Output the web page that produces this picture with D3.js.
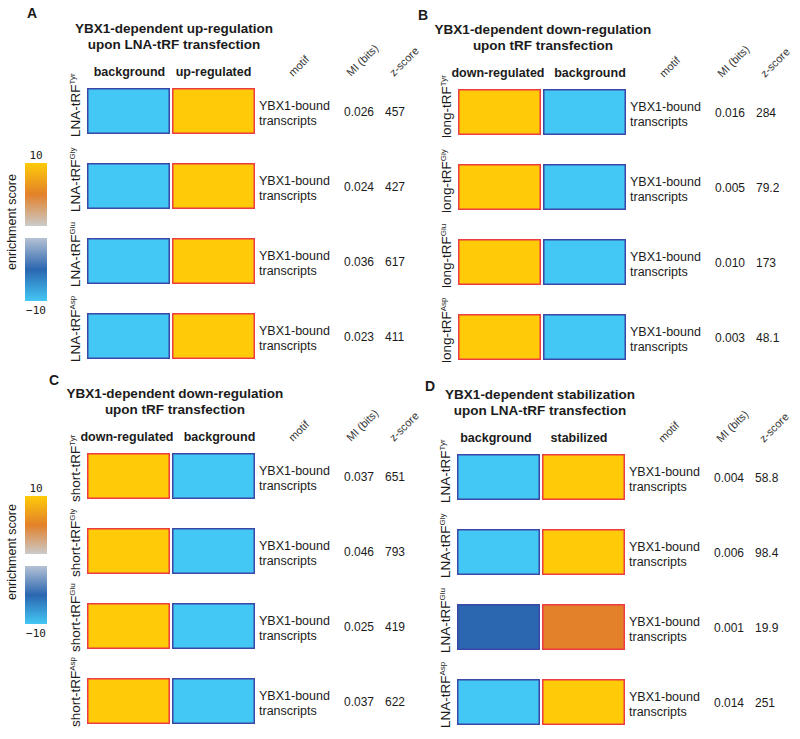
<!DOCTYPE html>
<html>
<head>
<meta charset="utf-8">
<script src="https://cdn.jsdelivr.net/npm/d3@7"></script>
<style>
  body { margin: 0; background: #fff; }
  svg text { font-family: "Liberation Sans", Arial, sans-serif; fill: #1b1b1b; }
</style>
</head>
<body>
<div id="chart"></div>
<script>
// ---- data ----
const panelLetters = ["A", "B", "C", "D"];
const titles = [
  ["YBX1-dependent up-regulation", "upon LNA-tRF transfection"],
  ["YBX1-dependent down-regulation", "upon tRF transfection"],
  ["YBX1-dependent down-regulation", "upon tRF transfection"],
  ["YBX1-dependent stabilization", "upon LNA-tRF transfection"]
];
const columnLabels = [
  ["background", "up-regulated"],
  ["down-regulated", "background"],
  ["down-regulated", "background"],
  ["background", "stabilized"]
];
const rowPrefixes = ["LNA-tRF", "long-tRF", "short-tRF", "LNA-tRF"];
const rowSuperscripts = ["Tyr", "Gly", "Glu", "Asp"];
const motifName = ["YBX1-bound", "transcripts"];
const statHeaders = ["motif", "MI (bits)", "z-score"];
const miBits = [
  ["0.026", "0.024", "0.036", "0.023"],
  ["0.016", "0.005", "0.010", "0.003"],
  ["0.037", "0.046", "0.025", "0.037"],
  ["0.004", "0.006", "0.001", "0.014"]
];
const zScores = [
  ["457", "427", "617", "411"],
  ["284", "79.2", "173", "48.1"],
  ["651", "793", "419", "622"],
  ["58.8", "98.4", "19.9", "251"]
];
// enrichment score of [left cell, right cell] for each row
const cellScores = [
  [[-10, 10], [-10, 10], [-10, 10], [-10, 10]],
  [[10, -10], [10, -10], [10, -10], [10, -10]],
  [[10, -10], [10, -10], [10, -10], [10, -10]],
  [[-10, 10], [-10, 10], [-5, 5], [-10, 10]]
];
const colorTicks = ["10", "\u221210"];

// ---- layout ----
const width = 800, height = 739;
const panelPos = [
  { dx: 0, dy: 0, lx: 27, ly: 18, head: [1, 0], tx: 174 },
  { dx: 371, dy: 1, lx: 418, ly: 20, head: [-1.5, 5.5], tx: 172 },
  { dx: 0, dy: 365, lx: 49, ly: 385, head: [-1.5, 6], tx: 175 },
  { dx: 370, dy: 366, lx: 425, ly: 391, head: [-2.5, -4.5], tx: 170 }
];
const colorbars = [
  { top: 163, bottom: 301, labelY: 222 },
  { top: 496, bottom: 624, labelY: 552 }
];

const color = d3.scaleLinear()
  .domain([-10, -5, -0.001, 0.001, 5, 10])
  .range(["#43c7f4", "#2b66b1", "#b5c2d4", "#cbcbcb", "#e2812a", "#ffcb08"]);
const redBorder = "#ee3b40", blueBorder = "#3a47a6";

const svg = d3.select("#chart").append("svg")
  .attr("width", width)
  .attr("height", height);

// rows and columns of the heatmap within a panel
const y = d3.scaleBand()
  .domain(rowSuperscripts)
  .range([88, 359])
  .paddingInner(0.387);

const x = d3.scaleBand()
  .domain([0, 1])
  .range([87, 255])
  .paddingInner(0.024);

panelLetters.forEach((letter, p) => {
  const pos = panelPos[p];

  svg.append("text")
    .attr("x", pos.lx)
    .attr("y", pos.ly)
    .style("font-size", "14px")
    .style("font-weight", "bold")
    .text(letter);

  const g = svg.append("g")
    .attr("transform", `translate(${pos.dx},${pos.dy})`);

  g.selectAll(".title")
    .data(titles[p])
    .enter()
    .append("text")
    .attr("x", pos.tx)
    .attr("y", (d, i) => 33 + i * 16)
    .attr("text-anchor", "middle")
    .style("font-size", "13.5px")
    .style("font-weight", "bold")
    .text(d => d);

  g.selectAll(".col")
    .data(columnLabels[p])
    .enter()
    .append("text")
    .attr("x", (d, i) => x(i) + x.bandwidth() / 2 + pos.head[i])
    .attr("y", 76)
    .attr("text-anchor", "middle")
    .style("font-size", "12.5px")
    .style("font-weight", "bold")
    .text(d => d);

  const headX = [293, 351, 394];
  g.selectAll(".head")
    .data(statHeaders)
    .enter()
    .append("text")
    .attr("transform", (d, i) => `translate(${headX[i]},77) rotate(-45)`)
    .style("font-size", "11px")
    .style("fill", "#333")
    .text(d => d);

  rowSuperscripts.forEach((sup, r) => {
    const top = y(sup), bot = top + y.bandwidth(), mid = top + y.bandwidth() / 2;

    const label = g.append("text")
      .attr("transform", `translate(80,${bot + 3}) rotate(-90)`)
      .style("font-size", "13.5px");
    label.append("tspan").text(rowPrefixes[p]);
    label.append("tspan")
      .attr("dy", -5)
      .style("font-size", "8px")
      .text(sup);

    g.selectAll(null)
      .data(cellScores[p][r])
      .enter()
      .append("rect")
      .attr("x", (d, i) => x(i) + 0.75)
      .attr("y", top + 0.75)
      .attr("width", x.bandwidth() - 1.5)
      .attr("height", y.bandwidth() - 1.5)
      .attr("fill", d => color(d))
      .attr("stroke", d => d > 0 ? redBorder : blueBorder)
      .attr("stroke-width", 1.5);

    g.selectAll(null)
      .data(motifName)
      .enter()
      .append("text")
      .attr("x", 259)
      .attr("y", (d, i) => mid - 1 + i * 15)
      .style("font-size", "12.5px")
      .text(d => d);

    g.append("text")
      .attr("x", 344)
      .attr("y", mid + 5)
      .style("font-size", "12px")
      .text(miBits[p][r]);

    g.append("text")
      .attr("x", 385)
      .attr("y", mid + 5)
      .style("font-size", "12px")
      .text(zScores[p][r]);
  });
});

// ---- colour bars ----
const defs = svg.append("defs");
const posStops = [10, 5, 0.001];
const negStops = [-0.001, -5, -10];
[["gradPos", posStops], ["gradNeg", negStops]].forEach(([id, stops]) => {
  const grad = defs.append("linearGradient")
    .attr("id", id)
    .attr("x1", 0).attr("y1", 0)
    .attr("x2", 0).attr("y2", 1);
  const off = d3.scaleLinear().domain([stops[0], stops[2]]).range([0, 1]);
  stops.forEach(s => {
    grad.append("stop")
      .attr("offset", off(s))
      .attr("stop-color", color(s));
  });
});

colorbars.forEach(cb => {
  const gap = 12;
  const half = (cb.bottom - cb.top - gap) / 2;
  const cy = d3.scaleLinear().domain([10, 0]).range([cb.top, cb.top + half]);
  const cyNeg = d3.scaleLinear().domain([0, -10]).range([cb.top + half + gap, cb.bottom]);

  svg.append("rect")
    .attr("x", 25).attr("y", cy(10))
    .attr("width", 22).attr("height", cy(0) - cy(10))
    .attr("fill", "url(#gradPos)");
  svg.append("rect")
    .attr("x", 25).attr("y", cyNeg(0))
    .attr("width", 22).attr("height", cyNeg(-10) - cyNeg(0))
    .attr("fill", "url(#gradNeg)");

  svg.append("text")
    .attr("x", 36).attr("y", cy(10) - 4)
    .attr("text-anchor", "middle")
    .style("font-family", "'DejaVu Sans Mono', monospace")
    .style("font-size", "11px")
    .text(colorTicks[0]);
  svg.append("text")
    .attr("x", 36).attr("y", cyNeg(-10) + 13)
    .attr("text-anchor", "middle")
    .style("font-family", "'DejaVu Sans Mono', monospace")
    .style("font-size", "11px")
    .text(colorTicks[1]);

  svg.append("text")
    .attr("transform", `translate(16,${cb.labelY}) rotate(-90)`)
    .attr("text-anchor", "middle")
    .style("font-size", "12.5px")
    .text("enrichment score");
});
</script>
</body>
</html>
